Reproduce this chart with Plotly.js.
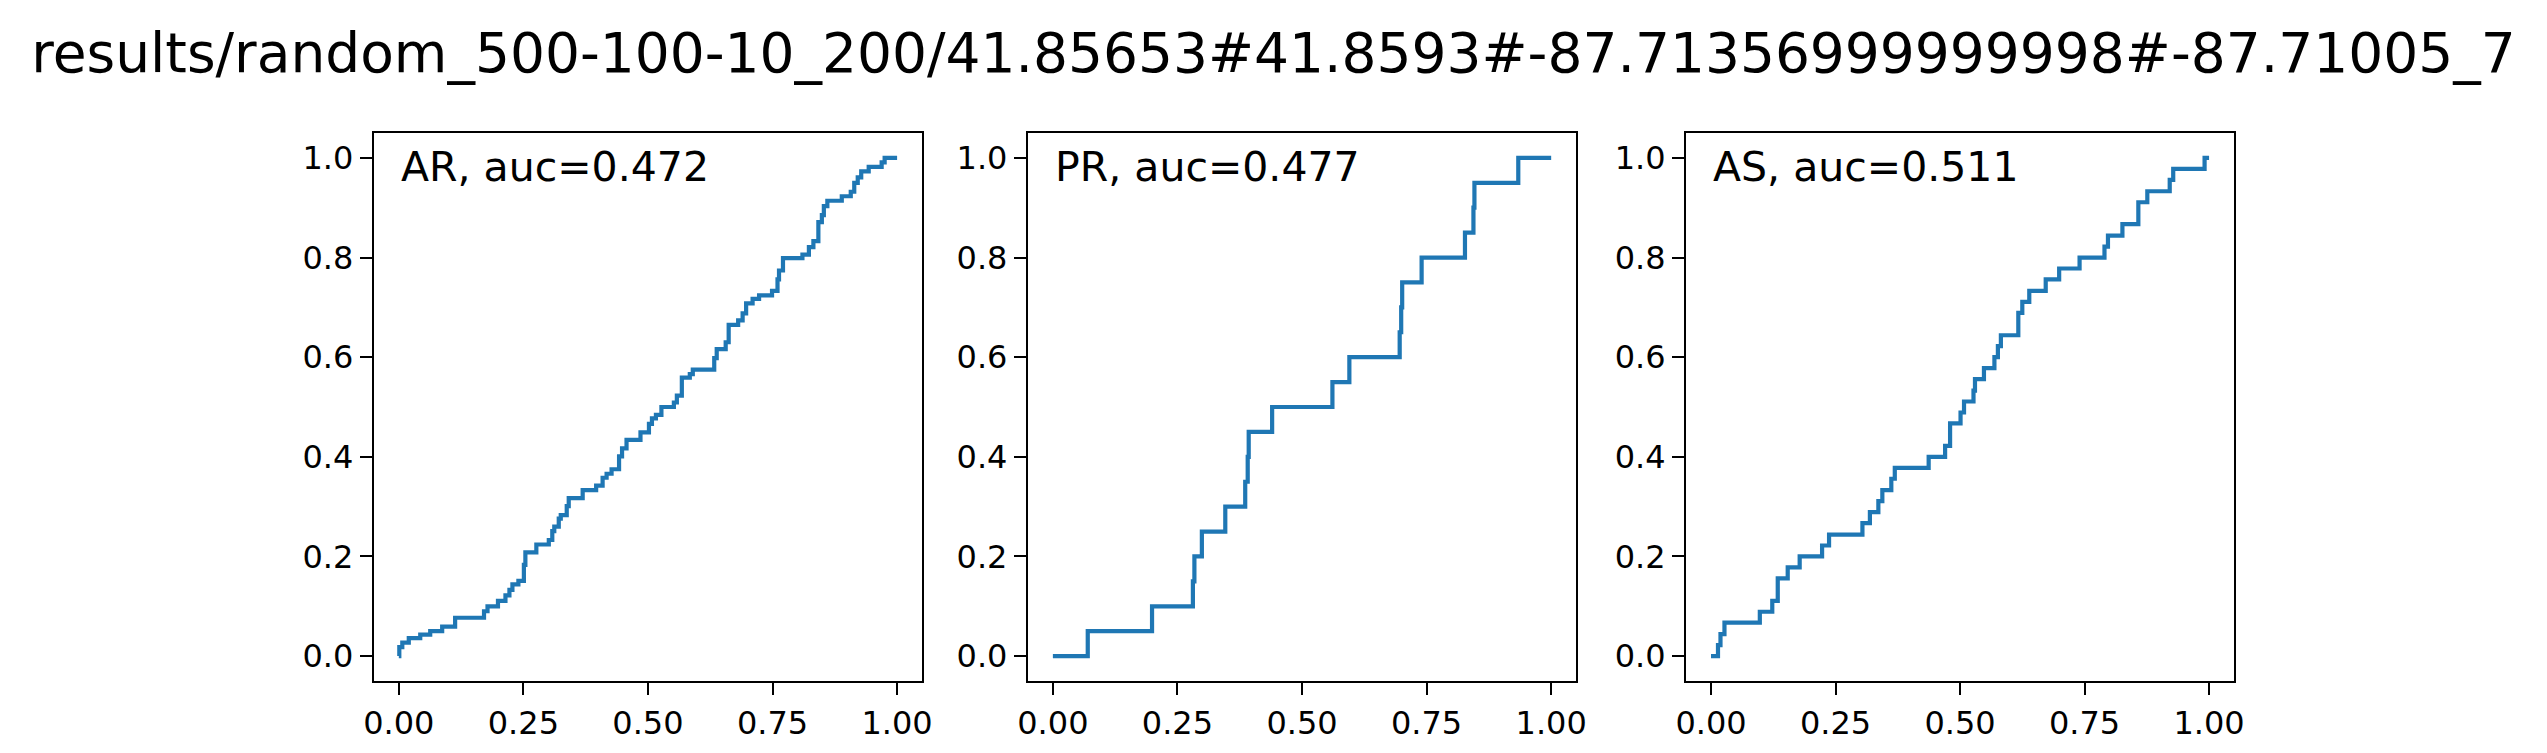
<!DOCTYPE html>
<html>
<head>
<meta charset="utf-8">
<script src="https://cdn.plot.ly/plotly-3.0.1.min.js"></script>
<style>html,body{margin:0;padding:0;background:#fff;}</style>
</head>
<body>
<div id="roc" style="width:2547px;height:753px;"></div>
<script>
var figTitle = 'results/random_500-100-10_200/41.85653#41.8593#-87.71356999999998#-87.71005_7';

var arFpr = [0, 0.001, 0.007, 0.020, 0.043, 0.063, 0.087, 0.113, 0.171, 0.178, 0.199, 0.214, 0.222, 0.228, 0.240, 0.251, 0.254, 0.276, 0.301, 0.308, 0.312, 0.321, 0.325, 0.337, 0.341, 0.369, 0.396, 0.409, 0.417, 0.427, 0.442, 0.448, 0.457, 0.485, 0.502, 0.508, 0.516, 0.527, 0.552, 0.558, 0.568, 0.584, 0.590, 0.633, 0.638, 0.656, 0.662, 0.681, 0.690, 0.697, 0.710, 0.723, 0.749, 0.760, 0.763, 0.771, 0.810, 0.823, 0.832, 0.842, 0.849, 0.853, 0.860, 0.889, 0.907, 0.914, 0.921, 0.928, 0.943, 0.969, 0.975, 1.0];
var arTpr = [0, 0.018, 0.027, 0.036, 0.043, 0.050, 0.059, 0.077, 0.090, 0.100, 0.111, 0.122, 0.133, 0.144, 0.151, 0.183, 0.208, 0.224, 0.233, 0.251, 0.260, 0.276, 0.283, 0.301, 0.317, 0.333, 0.342, 0.358, 0.366, 0.375, 0.401, 0.417, 0.434, 0.449, 0.466, 0.477, 0.484, 0.500, 0.509, 0.523, 0.559, 0.566, 0.575, 0.598, 0.616, 0.630, 0.665, 0.674, 0.688, 0.708, 0.717, 0.724, 0.733, 0.756, 0.774, 0.799, 0.806, 0.821, 0.833, 0.871, 0.885, 0.903, 0.914, 0.923, 0.932, 0.950, 0.961, 0.973, 0.982, 0.991, 1.0, 1.0];

var prFpr = [0, 0.070, 0.199, 0.281, 0.284, 0.299, 0.346, 0.386, 0.391, 0.393, 0.440, 0.561, 0.595, 0.696, 0.699, 0.701, 0.740, 0.827, 0.844, 0.846, 0.934, 1.0];
var prTpr = [0, 0.05, 0.10, 0.15, 0.20, 0.25, 0.30, 0.35, 0.40, 0.45, 0.50, 0.55, 0.60, 0.65, 0.70, 0.75, 0.80, 0.85, 0.90, 0.95, 1.0, 1.0];

var asFpr = [0, 0.014, 0.019, 0.027, 0.098, 0.123, 0.134, 0.154, 0.178, 0.223, 0.237, 0.304, 0.319, 0.336, 0.344, 0.362, 0.369, 0.437, 0.470, 0.480, 0.501, 0.508, 0.527, 0.530, 0.548, 0.569, 0.576, 0.582, 0.617, 0.625, 0.639, 0.672, 0.699, 0.740, 0.790, 0.797, 0.826, 0.858, 0.876, 0.921, 0.928, 0.991, 1.0];
var asTpr = [0, 0.022, 0.044, 0.067, 0.089, 0.111, 0.156, 0.178, 0.200, 0.222, 0.244, 0.267, 0.289, 0.311, 0.333, 0.356, 0.378, 0.400, 0.422, 0.467, 0.489, 0.511, 0.533, 0.556, 0.578, 0.600, 0.622, 0.644, 0.689, 0.711, 0.733, 0.756, 0.778, 0.800, 0.822, 0.844, 0.867, 0.911, 0.933, 0.956, 0.978, 1.0, 1.0];

var panelNames = ['AR', 'PR', 'AS'];
var panelAuc = ['0.472', '0.477', '0.511'];
var xTicks = [0, 0.25, 0.5, 0.75, 1.0];
var yTicks = [0, 0.2, 0.4, 0.6, 0.8, 1.0];

var curves = [[arFpr, arTpr], [prFpr, prTpr], [asFpr, asTpr]];
var domains = [[0.1468, 0.3620], [0.4036, 0.6188], [0.6620, 0.8771]];

var data = [];
var layout = {
	width: 2547,
	height: 753,
	margin: {l: 0, r: 0, t: 0, b: 0},
	paper_bgcolor: '#fff',
	plot_bgcolor: '#fff',
	showlegend: false,
	font: {family: 'DejaVu Sans', color: '#000'},
	title: {text: figTitle, font: {size: 55, family: 'DejaVu Sans'}, x: 0.5, xanchor: 'center', y: 0.93, yanchor: 'middle'},
	annotations: []
};

curves.forEach(function(c, i) {
	var sfx = i == 0 ? '' : String(i + 1);
	data.push({
		type: 'scatter',
		mode: 'lines',
		x: c[0],
		y: c[1],
		xaxis: 'x' + sfx,
		yaxis: 'y' + sfx,
		line: {color: '#1f77b4', width: 4.2, shape: 'hv'},
		hoverinfo: 'x+y'
	});
	var axCommon = {
		range: [-0.05, 1.05],
		showgrid: false,
		zeroline: false,
		showline: true,
		mirror: true,
		linecolor: '#000',
		linewidth: 2.2,
		ticks: 'outside',
		ticklen: 12,
		tickwidth: 2.2,
		tickcolor: '#000',
		tickfont: {size: 32, family: 'DejaVu Sans', color: '#000'}
	};
	layout['xaxis' + sfx] = Object.assign({}, axCommon, {
		domain: domains[i], anchor: 'y' + sfx,
		tickvals: xTicks, tickformat: '.2f'
	});
	layout['yaxis' + sfx] = Object.assign({}, axCommon, {
		domain: [0.0956, 0.8234], anchor: 'x' + sfx,
		tickvals: yTicks, tickformat: '.1f'
	});
	layout.annotations.push({
		xref: 'x' + sfx + ' domain', yref: 'y' + sfx + ' domain',
		x: 0.045, y: 0.985, xanchor: 'left', yanchor: 'top',
		showarrow: false,
		text: panelNames[i] + ', auc=' + panelAuc[i],
		font: {size: 41, family: 'DejaVu Sans', color: '#000'}
	});
});

Plotly.newPlot('roc', data, layout, {displayModeBar: false});
</script>
</body>
</html>
